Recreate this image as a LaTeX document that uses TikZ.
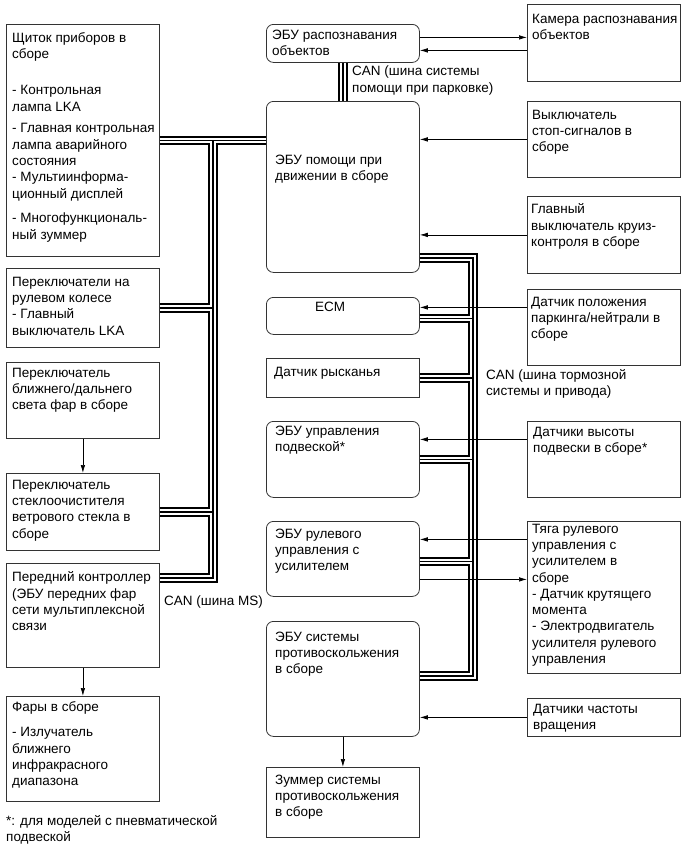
\documentclass[tikz,border=0pt]{standalone}
\usepackage{fontspec}
\setmainfont{Liberation Sans}
\usetikzlibrary{arrows.meta}
\begin{document}
\begin{tikzpicture}[x=1pt, y=-1pt,
  every node/.style={font=\fontsize{13.5pt}{16.3pt}\selectfont, inner sep=0pt},
  blk/.style={draw=black!80, line width=0.8pt, minimum width=153pt, anchor=north west},
  ecu/.style={blk, rounded corners=7pt},
  txt/.style={anchor=north west, align=left, xshift=6pt},
  sig/.style={-{Latex[length=8pt,width=4.5pt]}, line width=0.7pt},
  bus/.style={draw=black, line width=9.5pt, postaction={draw=white, line width=5.5pt}, postaction={draw=black, line width=1.2pt}}]
  \useasboundingbox (0,0) rectangle (686,857);

  % left column
  \node[blk, minimum height=232pt, label={[txt, yshift=-8.4pt]north west:{Щиток приборов в\\сборе\\[19.7pt]- Контрольная\\лампа LKA\\[5.5pt]- Главная контрольная\\лампа аварийного\\состояния\\- Мультиинформа-\\ционный дисплей\\[8.5pt]- Многофункциональ-\\ный зуммер}}] (cluster) at (6,24) {};
  \node[blk, minimum height=79pt, label={[txt, yshift=-8.7pt]north west:{Переключатели на\\рулевом колесе\\- Главный\\выключатель LKA}}] (wheelsw) at (6,268) {};
  \node[blk, minimum height=76pt, label={[txt, yshift=-5.7pt]north west:{Переключатель\\ближнего/дальнего\\света фар в сборе}}] (beamsw) at (6,362) {};
  \node[blk, minimum height=77pt, label={[txt, yshift=-6.7pt]north west:{Переключатель\\стеклоочистителя\\ветрового стекла в\\сборе}}] (wipersw) at (6,473) {};
  \node[blk, minimum height=104pt, label={[txt, yshift=-8.7pt]north west:{Передний контроллер\\(ЭБУ передних фар\\сети мультиплексной\\связи}}] (frontctl) at (6,563) {};
  \node[blk, minimum height=105pt, label={[txt, yshift=-5.7pt]north west:{Фары в сборе\\[8.7pt]- Излучатель\\ближнего\\инфракрасного\\диапазона}}] (headlamp) at (6,696) {};

  % middle column
  \node[ecu, minimum height=38pt, label={[txt, yshift=-5.7pt]north west:{ЭБУ распознавания\\объектов}}] (objecu) at (266,24) {};
  \node[ecu, minimum height=171pt, label={[txt, xshift=3pt, yshift=-53.7pt]north west:{ЭБУ помощи при\\движении в сборе}}] (assist) at (266,101) {};
  \node[ecu, minimum height=37pt, label={[txt, xshift=43pt, yshift=-4.7pt]north west:{ECM}}] (ecm) at (266,297) {};
  \node[blk, minimum height=39pt, label={[txt, xshift=2pt, yshift=-8.7pt]north west:{Датчик рысканья}}] (yaw) at (266,358) {};
  \node[ecu, minimum height=76pt, label={[txt, xshift=3pt, yshift=-4.7pt]north west:{ЭБУ управления\\подвеской*}}] (suspecu) at (266,421) {};
  \node[ecu, minimum height=75pt, label={[txt, xshift=3pt, yshift=-7.7pt]north west:{ЭБУ рулевого\\управления с\\усилителем}}] (epsecu) at (266,521) {};
  \node[ecu, minimum height=115pt, label={[txt, xshift=3pt, yshift=-10.7pt]north west:{ЭБУ системы\\противоскольжения\\в сборе}}] (vscecu) at (266,621) {};
  \node[blk, minimum height=70pt, label={[txt, xshift=3pt, yshift=-7.7pt]north west:{Зуммер системы\\противоскольжения\\в сборе}}] (buzzer) at (266,767) {};

  % right column
  \node[blk, minimum height=77pt, label={[txt, xshift=-1pt, yshift=-9.7pt]north west:{Камера распознавания\\объектов}}] (camera) at (527,4) {};
  \node[blk, minimum height=76pt, label={[txt, xshift=-1pt, yshift=-8.7pt]north west:{Выключатель\\стоп-сигналов в\\сборе}}] (stopsw) at (527,101) {};
  \node[blk, minimum height=77pt, label={[txt, xshift=-2pt, yshift=-7.7pt]north west:{Главный\\выключатель круиз-\\контроля в сборе}}] (cruisesw) at (527,196) {};
  \node[blk, minimum height=76pt, label={[txt, xshift=-2pt, yshift=-7.7pt]north west:{Датчик положения\\паркинга/нейтрали в\\сборе}}] (pnsw) at (527,289) {};
  \node[blk, minimum height=76pt, label={[txt, yshift=-5.7pt]north west:{Датчики высоты\\подвески в сборе*}}] (heightsens) at (527,421) {};
  \node[blk, minimum height=152pt, label={[txt, xshift=-1pt, yshift=-2.7pt]north west:{Тяга рулевого\\управления с\\усилителем в\\сборе\\- Датчик крутящего\\момента\\- Электродвигатель\\усилителя рулевого\\управления}}] (steergear) at (527,521) {};
  \node[blk, minimum height=38pt, label={[txt, yshift=-5.7pt]north west:{Датчики частоты\\вращения}}] (speedsens) at (527,698) {};

  % CAN buses
  \coordinate (ms-top) at (213,140.5);
  \coordinate (ms-bot) at (213,578);
  \coordinate (br-top) at (473,258);
  \coordinate (br-bot) at (473,676);
  \draw[bus] (cluster.east |- ms-top) -- (assist.west |- ms-top)
    (ms-top) -- (ms-bot) -- (frontctl.east |- ms-bot)
    (wheelsw.east) -- (wheelsw.east -| ms-top)
    (wipersw.east) -- (wipersw.east -| ms-top);
  \draw[bus] (objecu.south) -- (assist.north);
  \draw[bus] (assist.east |- br-top) -- (br-top) -- (br-bot) -- (vscecu.east |- br-bot)
    ([yshift=-2.5pt]ecm.east) -- ([yshift=-2.5pt]ecm.east -| br-top)
    (yaw.east) -- (yaw.east -| br-top)
    (suspecu.east) -- (suspecu.east -| br-top)
    ([yshift=-2.5pt]epsecu.east) -- ([yshift=-2.5pt]epsecu.east -| br-top);
  \node[anchor=west, align=left] (can-park) at (352,80.5) {CAN (шина системы\\помощи при парковке)};
  \node[anchor=west, align=left] (can-brake) at (486,384) {CAN (шина тормозной\\системы и привода)};
  \node[anchor=west] (can-ms) at (164,602) {CAN (шина MS)};

  % signal lines
  \draw[sig] ([yshift=6pt]objecu.east) -- ([yshift=6pt]objecu.east -| camera.west);
  \draw[sig] ([yshift=-7pt]objecu.east -| camera.west) -- ([yshift=-7pt]objecu.east);
  \foreach \src/\dst in {stopsw/assist, cruisesw/assist, speedsens/vscecu}
    \draw[sig] (\src.west) -- (\src.west -| \dst.east);
  \draw[sig] ([yshift=8.5pt]ecm.east -| pnsw.west) -- ([yshift=8.5pt]ecm.east);
  \draw[sig] ([yshift=20pt]suspecu.east -| heightsens.west) -- ([yshift=20pt]suspecu.east);
  \draw[sig] ([yshift=19.5pt]epsecu.east -| steergear.west) -- ([yshift=19.5pt]epsecu.east);
  \draw[sig] ([yshift=-20.5pt]epsecu.east) -- ([yshift=-20.5pt]epsecu.east -| steergear.west);
  \foreach \src/\dst in {beamsw/wipersw, frontctl/headlamp, vscecu/buzzer}
    \draw[sig] (\src.south) -- (\dst.north);

  \node[anchor=west, align=left] (note) at (6,830) {*: для моделей с пневматической\\подвеской};
\end{tikzpicture}
\end{document}
